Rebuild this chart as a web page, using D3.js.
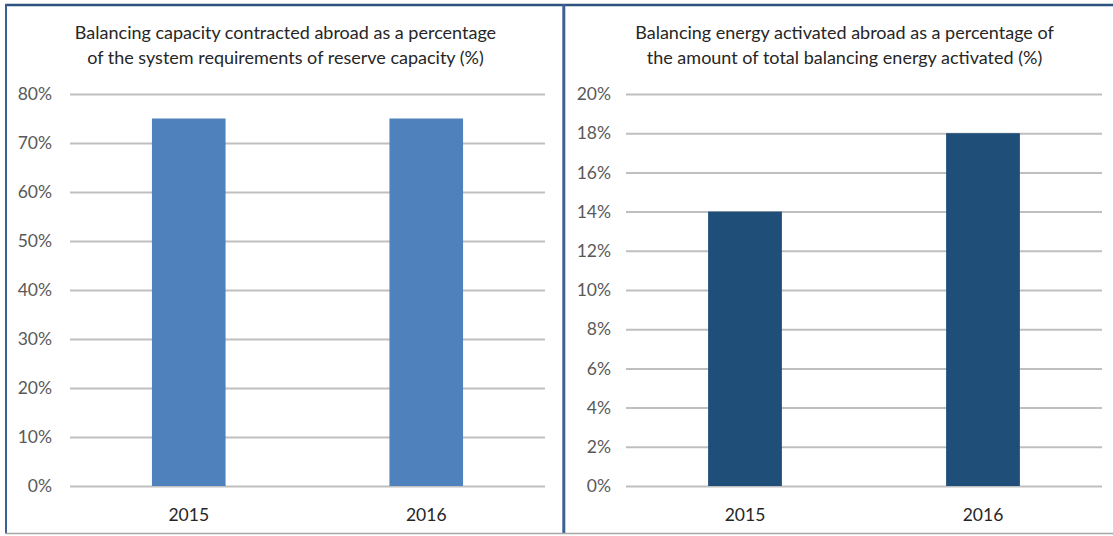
<!DOCTYPE html>
<html><head><meta charset="utf-8">
<script src="https://cdn.jsdelivr.net/npm/d3@7"></script>
<style>body{margin:0;background:#fff}svg{display:block}</style>
</head><body>
<svg id="c" width="1113" height="536"></svg>
<script>
const categories = ["2015", "2016"];
const capacityValues = [0.75, 0.75];
const energyValues = [0.14, 0.18];
const capacityTicks = [0, 0.1, 0.2, 0.3, 0.4, 0.5, 0.6, 0.7, 0.8];
const energyTicks = [0, 0.02, 0.04, 0.06, 0.08, 0.1, 0.12, 0.14, 0.16, 0.18, 0.2];
const capacityTitle = ["Balancing capacity contracted abroad as a percentage", "of the system requirements of reserve capacity (%)"];
const energyTitle = ["Balancing energy activated abroad as a percentage of", "the amount of total balancing energy activated (%)"];

const svg = d3.select("#c");
const font = "Lato, 'Open Sans', sans-serif";

// frame
svg.append("rect").attr("x",0).attr("y",0).attr("width",1113).attr("height",536).attr("fill","#fff");
svg.append("line").attr("x1",5).attr("x2",1113).attr("y1",5).attr("y2",5).attr("stroke","#2e5381").attr("stroke-width",2.5);
svg.append("line").attr("x1",6).attr("x2",6).attr("y1",4).attr("y2",534).attr("stroke","#3c6092").attr("stroke-width",2);
svg.append("line").attr("x1",563.8).attr("x2",563.8).attr("y1",4).attr("y2",534).attr("stroke","#3c6092").attr("stroke-width",3);
svg.append("line").attr("x1",5).attr("x2",1113).attr("y1",533.5).attr("y2",533.5).attr("stroke","#a6a6a6").attr("stroke-width",1.5);

function panel(opts){
  const g = svg.append("g");
  const x = d3.scaleBand().domain(categories).range([opts.x0, opts.x1]).paddingInner(0.69).paddingOuter(0.345);
  const y = d3.scaleLinear().domain([0, opts.max]).range([486, 94]);
  // gridlines
  g.append("g").attr("transform",`translate(${opts.x0},0)`)
    .call(d3.axisLeft(y).tickValues(opts.ticks).tickSize(-(opts.x1-opts.x0)).tickFormat(d3.format(".0%")).tickPadding(opts.x0-opts.labelX))
    .call(a=>a.select(".domain").remove())
    .call(a=>a.selectAll(".tick line").attr("stroke","#bfbfbf").attr("stroke-width",2))
    .call(a=>a.selectAll(".tick text").attr("fill","#595959").attr("font-size",17.5).attr("font-family",font));
  // bars
  g.selectAll("rect.bar").data(opts.values).enter().append("rect")
    .attr("x",(d,i)=>x(categories[i]))
    .attr("width",x.bandwidth())
    .attr("y",d=>y(d))
    .attr("height",d=>y(0)-y(d))
    .attr("fill",opts.color);
  // x labels
  g.append("g").attr("transform","translate(0,486)")
    .call(d3.axisBottom(x).tickSize(0).tickPadding(23))
    .call(a=>a.select(".domain").remove())
    .call(a=>a.selectAll(".tick text").attr("fill","#262626").attr("font-size",17.5).attr("font-family",font));
  // title
  const t = g.append("text").attr("text-anchor","middle").attr("font-family",font).attr("font-size",18).attr("fill","#262626");
  opts.title.forEach((s,i)=>t.append("tspan").attr("x",opts.titleX).attr("y",39+i*25).text(s));
}

panel({x0:70, x1:545, labelX:52, max:0.8, ticks:capacityTicks, values:capacityValues, color:"#4f81bd", title:capacityTitle, titleX:285.5});
panel({x0:626, x1:1102, labelX:611, max:0.2, ticks:energyTicks, values:energyValues, color:"#1f4e79", title:energyTitle, titleX:844.5});
</script>
</body></html>
